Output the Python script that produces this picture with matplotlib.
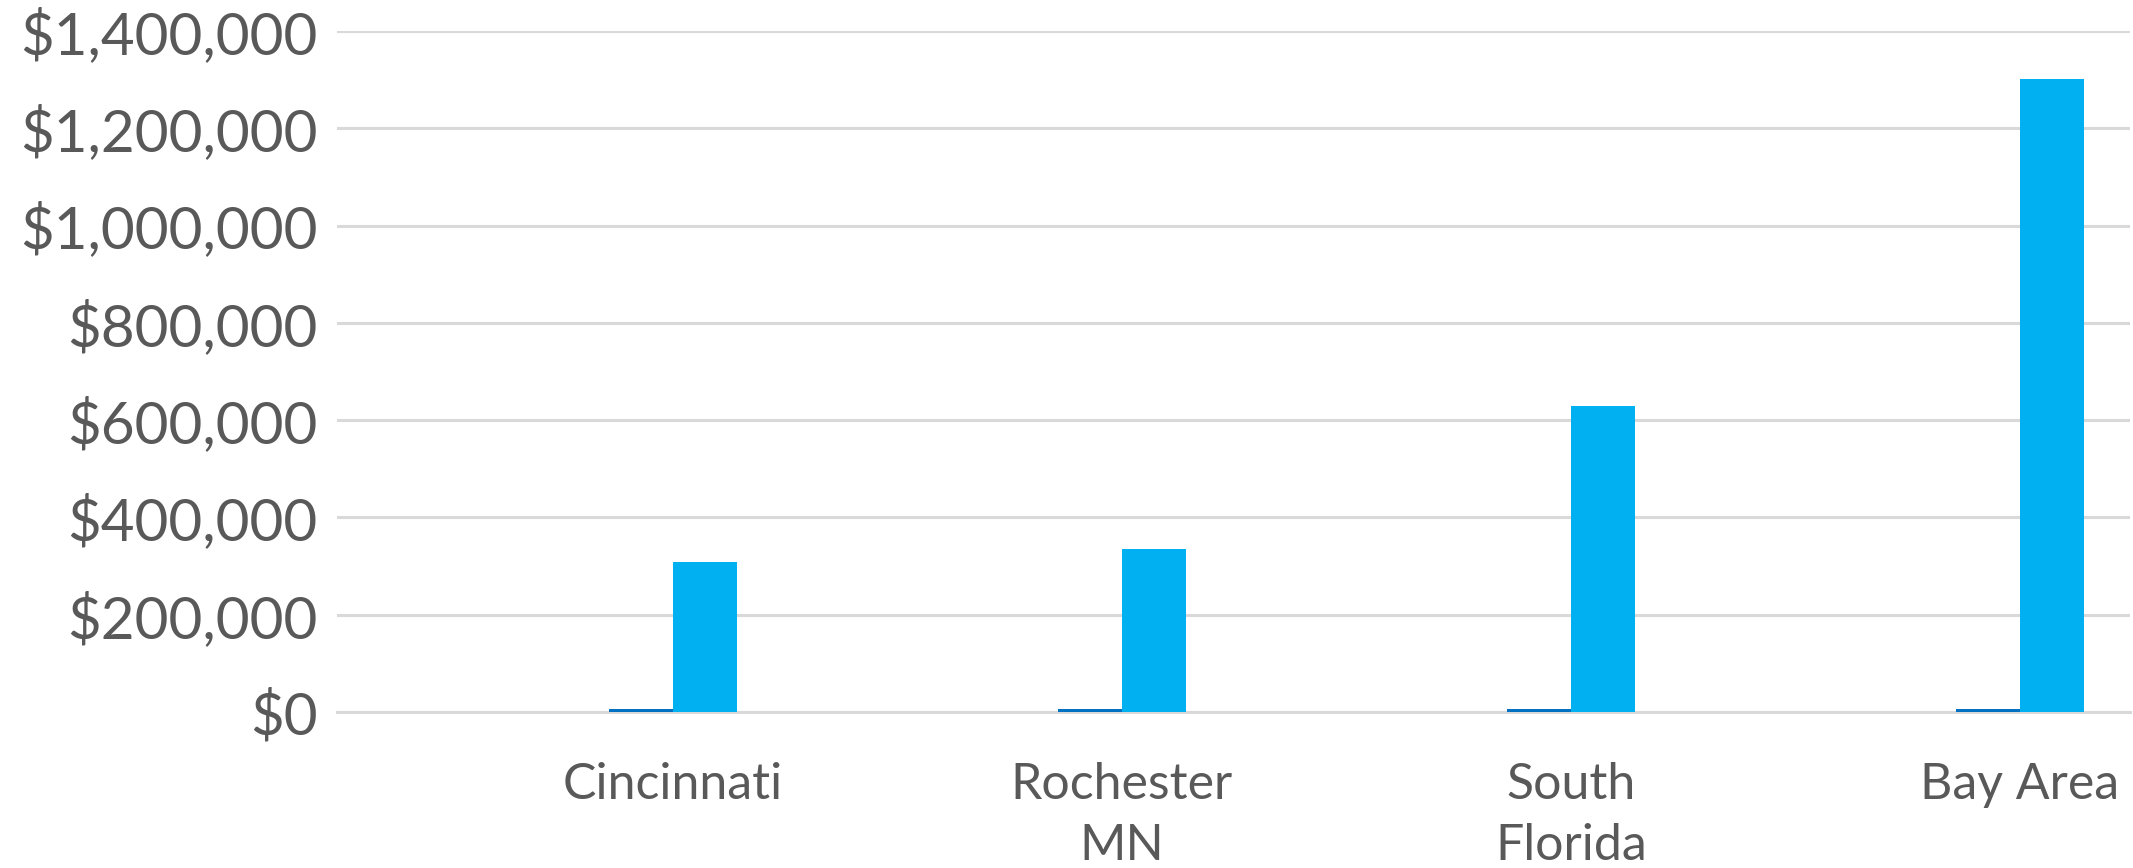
import matplotlib.pyplot as plt
from matplotlib.ticker import FuncFormatter
import numpy as np

plt.rcParams['font.family'] = ['Lato', 'DejaVu Sans']

regions = ['Cincinnati', 'Rochester\nMN', 'South\nFlorida', 'Bay Area']
series_a = [6000, 6000, 6000, 6000]
series_b = [308000, 336000, 630000, 1302000]

text_color = '#595959'
grid_color = '#D9D9D9'

fig = plt.figure(figsize=(21.33, 8.68), dpi=100)
ax = fig.add_axes([0.158, 0.1797, 0.8406, 0.7846])

x = np.arange(len(regions))
w = 0.142
ax.bar(x - w / 2, series_a, width=w, color='#0070C0', zorder=3)
ax.bar(x + w / 2, series_b, width=w, color='#00B0F0', zorder=3)

ax.set_xlim(-0.748, 3.245)
ax.set_ylim(0, 1400000)
ax.set_yticks(np.arange(0, 1400001, 200000))
ax.yaxis.set_major_formatter(FuncFormatter(lambda v, p: '${:,.0f}'.format(v)))
ax.set_xticks(x)
ax.set_xticklabels(regions, linespacing=1.4)

ax.grid(axis='y', color=grid_color, linewidth=2.2, zorder=0)
for s in ['top', 'right', 'left']:
    ax.spines[s].set_visible(False)
ax.spines['bottom'].set_color(grid_color)
ax.spines['bottom'].set_linewidth(2.2)
ax.spines['bottom'].set_zorder(2)

ax.tick_params(axis='both', length=0, colors=text_color)
ax.tick_params(axis='y', pad=14, labelsize=42)
ax.tick_params(axis='x', pad=36, labelsize=36)

plt.savefig('out.png', dpi=100)
